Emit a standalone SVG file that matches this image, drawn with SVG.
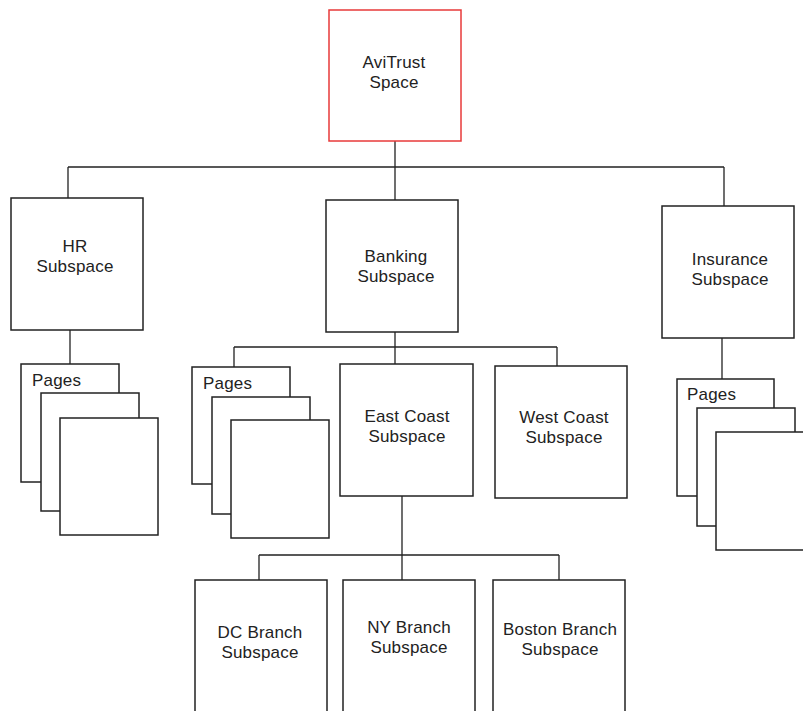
<svg xmlns="http://www.w3.org/2000/svg" width="803" height="711" viewBox="0 0 803 711">
<style>
.box{fill:#fff;stroke:#222;stroke-width:1.5}
.root{fill:#fff;stroke:#e83a3a;stroke-width:1.5}
.pg{fill:#fff;stroke:#222;stroke-width:1.5}
.ln{fill:none;stroke:#222;stroke-width:1.3}
text{font-family:"Liberation Sans",Arial,sans-serif;font-size:17px;letter-spacing:0.2px;fill:#222}
.c{text-anchor:middle}
</style>
<rect width="803" height="711" fill="#fff"/>
<g id="connectors">
<path class="ln" d="M395 141V167M68 167H724M68 167V198M395 167V200M724 167V206"/>
<path class="ln" d="M70 330V364"/>
<path class="ln" d="M395 332V347M234 347H557M234 347V367M395 347V364M557 347V366"/>
<path class="ln" d="M722 338V379"/>
<path class="ln" d="M402 496V555M259 555H559M259 555V580M402 555V580M559 555V580"/>
</g>
<g id="avitrust">
<rect class="root" x="329" y="10" width="132" height="131"/>
<text class="c" x="394" y="68">AviTrust</text>
<text class="c" x="394" y="88">Space</text>
</g>
<g id="hr">
<rect class="box" x="11" y="198" width="132" height="132"/>
<text class="c" x="75" y="252">HR</text>
<text class="c" x="75" y="272">Subspace</text>
</g>
<g id="banking">
<rect class="box" x="326" y="200" width="132" height="132"/>
<text class="c" x="396" y="262">Banking</text>
<text class="c" x="396" y="282">Subspace</text>
</g>
<g id="insurance">
<rect class="box" x="662" y="206" width="132" height="132"/>
<text class="c" x="730" y="265">Insurance</text>
<text class="c" x="730" y="285">Subspace</text>
</g>
<g id="hr-pages">
<rect class="pg" x="21" y="364" width="98" height="118"/>
<text x="32" y="386">Pages</text>
<rect class="pg" x="41" y="393" width="98" height="118"/>
<rect class="pg" x="60" y="418" width="98" height="117"/>
</g>
<g id="banking-pages">
<rect class="pg" x="192" y="367" width="98" height="117"/>
<text x="203" y="389">Pages</text>
<rect class="pg" x="212" y="397" width="98" height="117"/>
<rect class="pg" x="231" y="420" width="98" height="118"/>
</g>
<g id="east-coast">
<rect class="box" x="340" y="364" width="133" height="132"/>
<text class="c" x="407" y="422">East Coast</text>
<text class="c" x="407" y="442">Subspace</text>
</g>
<g id="west-coast">
<rect class="box" x="495" y="366" width="132" height="132"/>
<text class="c" x="564" y="423">West Coast</text>
<text class="c" x="564" y="443">Subspace</text>
</g>
<g id="insurance-pages">
<rect class="pg" x="677" y="379" width="97" height="117"/>
<text x="687" y="400">Pages</text>
<rect class="pg" x="697" y="408" width="98" height="118"/>
<rect class="pg" x="716" y="432" width="98" height="118"/>
</g>
<g id="dc-branch">
<rect class="box" x="195" y="580" width="132" height="140"/>
<text class="c" x="260" y="638">DC Branch</text>
<text class="c" x="260" y="658">Subspace</text>
</g>
<g id="ny-branch">
<rect class="box" x="343" y="580" width="132" height="140"/>
<text class="c" x="409" y="633">NY Branch</text>
<text class="c" x="409" y="653">Subspace</text>
</g>
<g id="boston-branch">
<rect class="box" x="493" y="580" width="132" height="140"/>
<text class="c" x="560" y="635">Boston Branch</text>
<text class="c" x="560" y="655">Subspace</text>
</g>
</svg>
